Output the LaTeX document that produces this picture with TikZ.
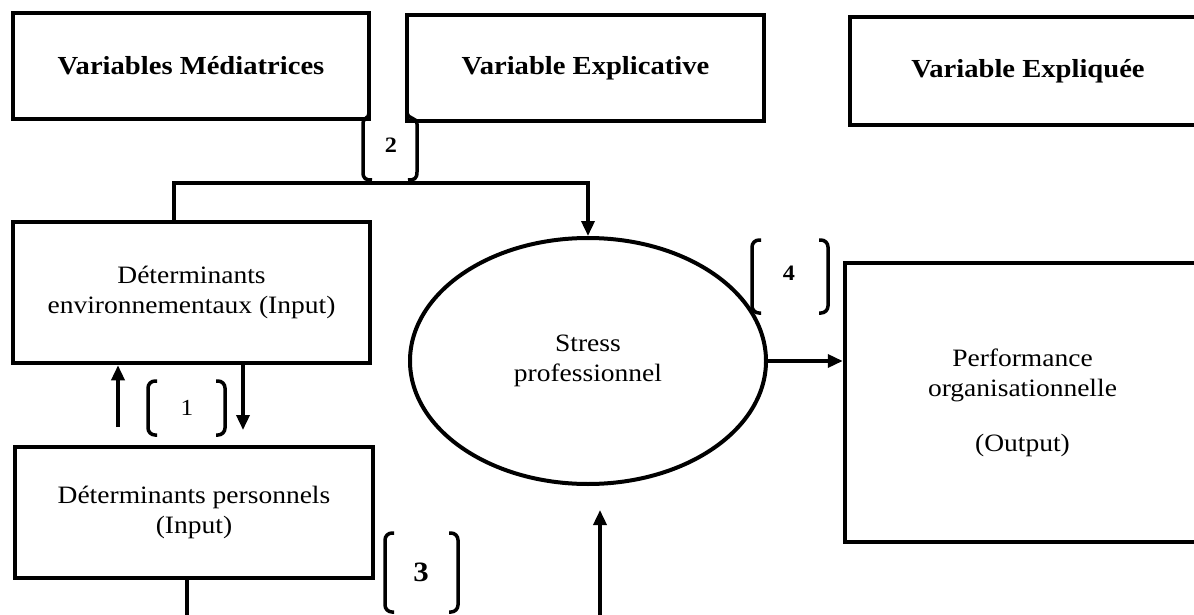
\documentclass[tikz,border=0pt]{standalone}
\usepackage{fontspec}
\setmainfont{Liberation Serif}[FakeStretch=1.1]
\usetikzlibrary{arrows.meta,calc,shapes.geometric}
\tikzset{
  box/.style={draw, line width=4.5pt, rectangle, align=center, inner sep=0pt},
  reg/.style={font=\fontsize{25}{30}\selectfont},
  bftxt/.style={font=\fontsize{26}{30}\selectfont\bfseries},
  conn/.style={line width=3.5pt},
  arr/.style={line width=3.5pt, -{Triangle[length=15pt,width=13pt]}},
  brk/.style={line width=3.5pt, rounded corners=7pt},
}
\newcommand\brpair[4]{%
  \draw[brk] ({#1+9},#3) -- (#1,#3) -- (#1,#4) -- ({#1+9},#4);
  \draw[brk] ({#2-9},#3) -- (#2,#3) -- (#2,#4) -- ({#2-9},#4);}
\begin{document}
\begin{tikzpicture}[x=1pt,y=-1pt]
\useasboundingbox (0,0) rectangle (1194,615);
\clip (0,0) rectangle (1194,615);
% boxes
\node[box,bftxt,minimum width=356pt,minimum height=106pt] (vm) at (191,66) {Variables Médiatrices};
\node[box,bftxt,minimum width=357pt,minimum height=106pt] (ve) at (585.5,68) {Variable Explicative};
\node[box,bftxt,minimum width=356pt,minimum height=108pt] (vy) at (1028,71) {Variable Expliquée};
\node[box,reg,minimum width=357pt,minimum height=141pt] (env) at (191.5,292.5) {Déterminants\\environnementaux (Input)};
\node[box,reg,minimum width=358pt,minimum height=131pt] (pers) at (194,512.5) {Déterminants personnels\\(Input)};
\node[draw,ellipse,line width=4pt,minimum width=356pt,minimum height=246pt,inner sep=0pt,reg,align=center] (stress) at (588,361) {Stress\\professionnel};
\node[box,reg,minimum width=355pt,minimum height=279pt] (perf) at (1022.5,402.5) {Performance\\organisationnelle\\[25pt](Output)};
% connectors
\coordinate (jl) at (174,183);
\draw[arr] (env.north -| jl) -- (jl) -| (stress.north);
\coordinate (a1) at (118,427);
\draw[arr] (a1) -- (a1 |- env.south);
\coordinate (a2) at (243,430);
\draw[arr] (a2 |- env.south) -- (a2);
\coordinate (pb) at (187,625);
\draw[conn] (pers.south -| pb) -- (pb);
\coordinate (sb) at (600,625);
\coordinate (st) at (600,510);
\draw[arr] (sb) -- (st);
\draw[arr] (stress.east) -- (stress.east -| perf.west);
% brace 2
\draw[conn] (369,113) .. controls (369,119) and (363,117) .. (363,124) -- (363,172) .. controls (363,179) and (366,180) .. (372,180);
\draw[conn] (407,113) .. controls (407,119) and (417,117) .. (417,124) -- (417,172) .. controls (417,179) and (414,180) .. (408,180);
\node[font=\fontsize{22}{26}\selectfont\bfseries] (n2) at (391,145) {2};
% brace 1
\brpair{148}{225}{381}{435}
\node[font=\fontsize{23}{26}\selectfont] (n1) at (187,408) {1};
% brace 3
\brpair{385}{458}{533}{612}
\node[font=\fontsize{28}{32}\selectfont\bfseries] (n3) at (421,572) {3};
% brace 4
\brpair{752}{828}{240}{313}
\node[font=\fontsize{22}{26}\selectfont\bfseries] (n4) at (789,273) {4};
\end{tikzpicture}
\end{document}
